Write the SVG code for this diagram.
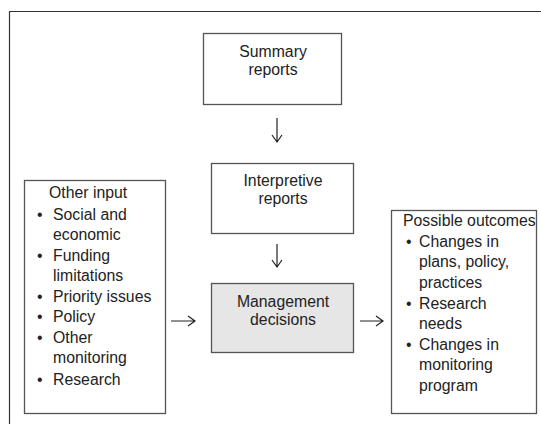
<svg xmlns="http://www.w3.org/2000/svg" width="541" height="424" viewBox="0 0 541 424">
<style>
.box{fill:#fff;stroke:#555;stroke-width:1.3}
.gray{fill:#e6e6e6}
.t{font-family:"Liberation Sans",Arial,sans-serif;font-size:15.8px;fill:#222}
.c{text-anchor:middle}
.ar{fill:none;stroke:#222;stroke-width:1.2}
</style>
<rect width="541" height="424" fill="#fff"/>
<path d="M9.5 424 V11.5 H541" fill="none" stroke="#333" stroke-width="1.2"/>
<g id="summary">
<rect class="box" x="203.5" y="33.5" width="138" height="71"/>
<text class="t c" x="273" y="57">Summary</text>
<text class="t c" x="273" y="75">reports</text>
</g>
<g id="interpretive">
<rect class="box" x="211.5" y="163.5" width="142" height="70"/>
<text class="t c" x="283" y="186">Interpretive</text>
<text class="t c" x="283" y="204">reports</text>
</g>
<g id="management">
<rect class="box gray" x="211.5" y="283.5" width="142" height="69"/>
<text class="t c" x="283" y="307">Management</text>
<text class="t c" x="283" y="325">decisions</text>
</g>
<g id="other-input">
<rect class="box" x="24.5" y="180.5" width="141" height="233"/>
<text class="t" x="49" y="198">Other input</text>
<text class="t" x="37" y="220">•</text><text class="t" x="53" y="220">Social and</text>
<text class="t" x="53" y="240">economic</text>
<text class="t" x="37" y="261">•</text><text class="t" x="53" y="261">Funding</text>
<text class="t" x="53" y="281">limitations</text>
<text class="t" x="37" y="302">•</text><text class="t" x="53" y="302">Priority issues</text>
<text class="t" x="37" y="322">•</text><text class="t" x="53" y="322">Policy</text>
<text class="t" x="37" y="343">•</text><text class="t" x="53" y="343">Other</text>
<text class="t" x="53" y="363">monitoring</text>
<text class="t" x="37" y="385">•</text><text class="t" x="53" y="385">Research</text>
</g>
<g id="outcomes">
<rect class="box" x="391.5" y="210.5" width="145" height="203"/>
<text class="t" x="403" y="226">Possible outcomes</text>
<text class="t" x="406" y="247">•</text><text class="t" x="419" y="247">Changes in</text>
<text class="t" x="419" y="267">plans, policy,</text>
<text class="t" x="419" y="288">practices</text>
<text class="t" x="406" y="309">•</text><text class="t" x="419" y="309">Research</text>
<text class="t" x="419" y="329">needs</text>
<text class="t" x="406" y="350">•</text><text class="t" x="419" y="350">Changes in</text>
<text class="t" x="419" y="370">monitoring</text>
<text class="t" x="419" y="391">program</text>
</g>
<g id="connectors">
<path class="ar" d="M277 118 V142 M272 135 L277 142 L282 135"/>
<path class="ar" d="M277 244 V267 M272 260 L277 267 L282 260"/>
<path class="ar" d="M171 321 H195 M188 316 L195 321 L188 326"/>
<path class="ar" d="M360 321 H383 M376 316 L383 321 L376 326"/>
</g>
</svg>
